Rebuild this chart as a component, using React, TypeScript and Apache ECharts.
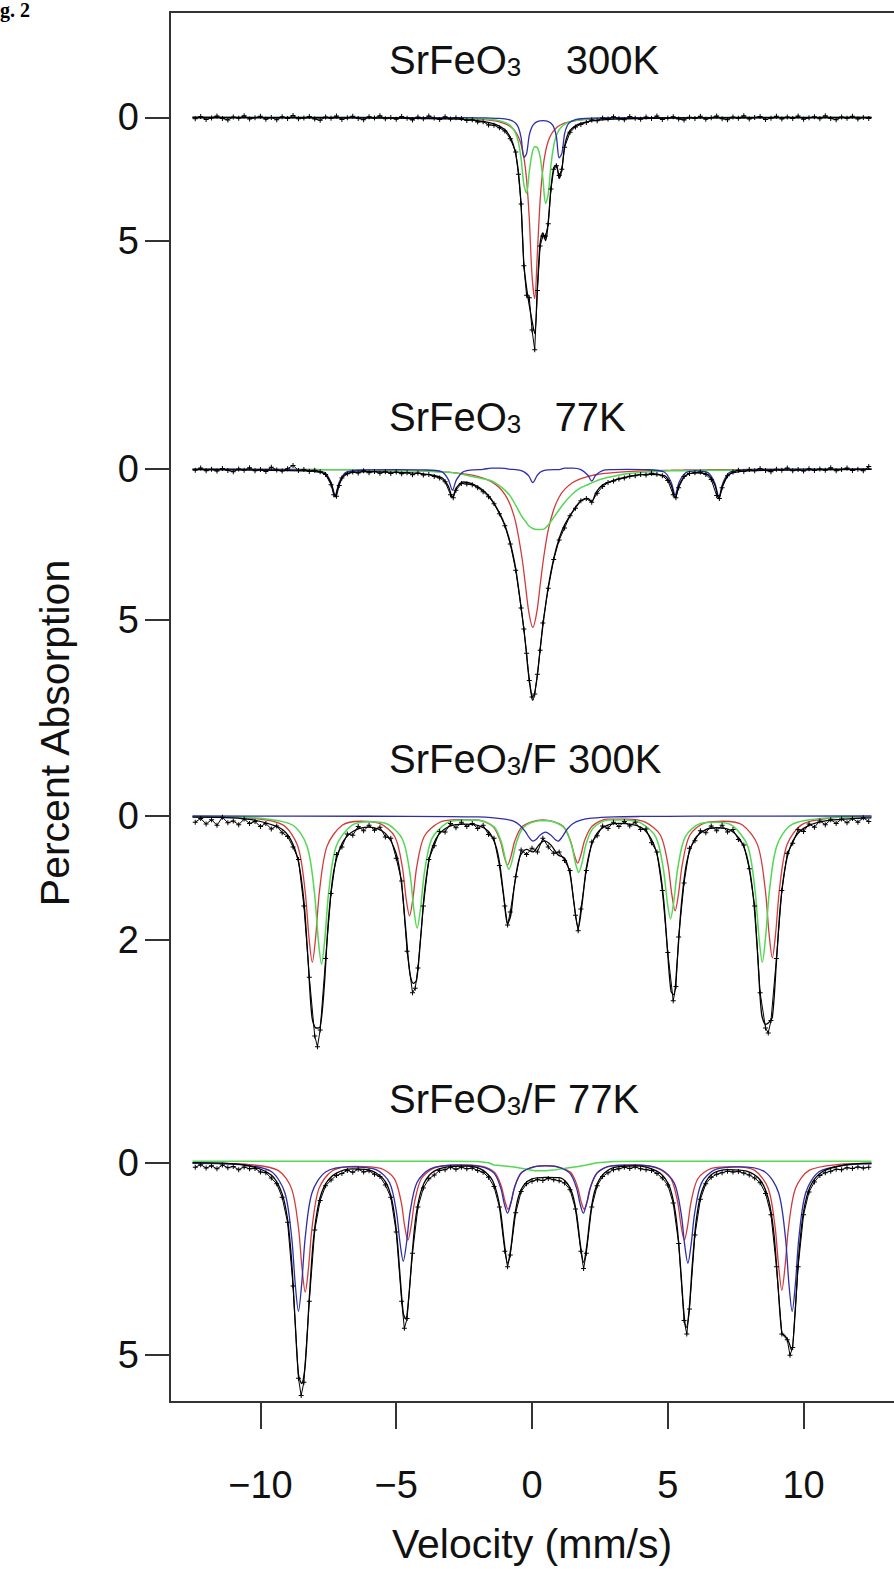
import React, { useEffect, useRef } from "react";
import * as echarts from "echarts";

// ---------- axis ticks ----------
const X_TICKS = [-10, -5, 0, 5, 10];
const Y_TICKS = [[0, 5], [0, 5], [0, 2], [0, 5]];
const TITLES = [
  ["SrFeO", "3", "    300K"],
  ["SrFeO", "3", "   77K"],
  ["SrFeO", "3", "/F 300K"],
  ["SrFeO", "3", "/F 77K"],
];

// ---------- panel 1 : SrFeO3 300K ----------
const p1V = [-12.5, -8, -5, -3, -2, -1.5, -1.2, -1.0, -0.9, -0.8, -0.7, -0.6, -0.5, -0.4, -0.3, -0.2, -0.1, 0, 0.1, 0.2, 0.3, 0.4, 0.5, 0.6, 0.7, 0.8, 0.9, 1.0, 1.1, 1.2, 1.3, 1.4, 1.6, 1.8, 2.2, 3, 5, 8, 12.5];
const p1Red = [0, 0.005, 0.011, 0.031, 0.068, 0.117, 0.176, 0.245, 0.296, 0.363, 0.457, 0.589, 0.786, 1.095, 1.605, 2.5, 4.09, 6.38, 7.33, 5.44, 3.35, 2.08, 1.37, 0.954, 0.697, 0.53, 0.415, 0.334, 0.274, 0.228, 0.194, 0.166, 0.126, 0.099, 0.065, 0.035, 0.012, 0.005, 0.002];
const p1Green = [0, 0, 0.01, 0.02, 0.05, 0.085, 0.134, 0.199, 0.252, 0.329, 0.449, 0.647, 1.009, 1.683, 2.712, 3.064, 2.197, 1.472, 1.184, 1.22, 1.595, 2.463, 3.479, 3.082, 1.906, 1.138, 0.722, 0.497, 0.362, 0.276, 0.216, 0.175, 0.122, 0.09, 0.055, 0.027, 0.009, 0.003, 0.001];
const p1Blue = [0, 0, 0.003, 0.005, 0.012, 0.023, 0.038, 0.058, 0.076, 0.104, 0.15, 0.233, 0.407, 0.822, 1.614, 1.462, 0.717, 0.374, 0.231, 0.166, 0.135, 0.126, 0.135, 0.164, 0.23, 0.386, 0.784, 1.638, 1.456, 0.662, 0.328, 0.191, 0.088, 0.051, 0.024, 0.01, 0.003, 0.001, 0];
const p1Fit = [0, 0.01, 0.02, 0.06, 0.13, 0.23, 0.35, 0.5, 0.62, 0.8, 1.06, 1.47, 2.2, 3.6, 5.93, 6.9, 7.6, 8.23, 8.75, 6.83, 5.08, 4.67, 4.98, 4.2, 2.83, 2.05, 1.92, 2.47, 2.09, 1.17, 0.74, 0.53, 0.34, 0.24, 0.14, 0.07, 0.02, 0.01, 0];
const p1Data = [
  [-12.4, 0.05], [-12.2, -0.04], [-12.0, 0.08], [-11.8, 0.02], [-11.6, -0.06], [-11.4, 0.04], [-11.2, 0.1], [-11.0, -0.02], [-10.8, 0.03], [-10.6, -0.07],
  [-10.4, 0.06], [-10.2, 0.01], [-10.0, -0.05], [-9.8, 0.07], [-9.6, 0.0], [-9.4, 0.09], [-9.2, -0.03], [-9.0, 0.04], [-8.8, -0.08], [-8.6, 0.05],
  [-8.4, 0.02], [-8.2, -0.04], [-8.0, 0.06], [-7.8, 0.11], [-7.6, -0.02], [-7.4, 0.03], [-7.2, -0.06], [-7.0, 0.08], [-6.8, 0.01], [-6.6, -0.05],
  [-6.4, 0.04], [-6.2, 0.09], [-6.0, -0.03], [-5.8, 0.02], [-5.6, -0.07], [-5.4, 0.05], [-5.2, 0.0], [-5.0, 0.07], [-4.8, -0.04], [-4.6, 0.03],
  [-4.4, 0.1], [-4.2, -0.02], [-4.0, 0.05], [-3.8, -0.06], [-3.6, 0.02], [-3.4, 0.08], [-3.2, -0.03], [-3.0, 0.06], [-2.8, 0.01], [-2.6, 0.04],
  [-2.4, 0.12], [-2.2, 0.09], [-2.0, 0.18], [-1.8, 0.17], [-1.6, 0.3], [-1.4, 0.31], [-1.2, 0.42], [-1.0, 0.55], [-0.8, 0.86], [-0.6, 1.4],
  [-0.5, 2.3], [-0.4, 3.5], [-0.3, 6.0], [-0.2, 7.2], [-0.1, 7.3], [0.0, 8.6], [0.1, 9.4], [0.2, 7.0], [0.3, 5.2], [0.4, 4.8],
  [0.5, 4.8], [0.6, 4.3], [0.7, 2.9], [0.8, 2.1], [0.9, 1.95], [1.0, 2.35], [1.1, 2.1], [1.2, 1.2], [1.4, 0.6], [1.6, 0.38],
  [1.8, 0.28], [2.0, 0.2], [2.2, 0.1], [2.4, 0.13], [2.6, 0.02], [2.8, 0.06], [3.0, -0.03], [3.2, 0.05], [3.4, 0.09], [3.6, -0.04],
  [3.8, 0.03], [4.0, 0.07], [4.2, -0.02], [4.4, 0.04], [4.6, -0.06], [4.8, 0.08], [5.0, 0.02], [5.2, -0.03], [5.4, 0.06], [5.6, 0.1],
  [5.8, -0.01], [6.0, 0.04], [6.2, -0.05], [6.4, 0.07], [6.6, 0.01], [6.8, -0.06], [7.0, 0.05], [7.2, 0.09], [7.4, -0.02], [7.6, 0.03],
  [7.8, -0.07], [8.0, 0.06], [8.2, 0.0], [8.4, -0.04], [8.6, 0.08], [8.8, 0.03], [9.0, -0.05], [9.2, 0.06], [9.4, -0.02], [9.6, 0.04],
  [9.8, -0.06], [10.0, 0.07], [10.2, 0.01], [10.4, -0.03], [10.6, 0.05], [10.8, -0.07], [11.0, 0.04], [11.2, 0.09], [11.4, -0.02], [11.6, 0.03],
  [11.8, -0.05], [12.0, 0.06], [12.2, 0.0], [12.4, 0.04],
];

// ---------- panel 2 : SrFeO3 77K ----------
const p2V = [-12.5, -10, -8.5, -7.65, -7.4, -7.25, -7.1, -6.85, -6, -5, -4, -3.33, -3.08, -2.93, -2.78, -2.53, -2.2, -1.8, -1.5, -1.2, -1.0, -0.8, -0.6, -0.37, -0.25, -0.12, 0.03, 0.18, 0.3, 0.43, 0.6, 0.8, 1.0, 1.2, 1.5, 1.8, 2.05, 2.2, 2.35, 2.6, 3.0, 3.5, 4.2, 4.87, 5.12, 5.27, 5.42, 5.67, 6.07, 6.48, 6.73, 6.88, 7.03, 7.28, 8, 9, 10.5, 12.5];
const p2Red = [0.007, 0.011, 0.015, 0.018, 0.019, 0.02, 0.021, 0.022, 0.029, 0.042, 0.064, 0.092, 0.107, 0.118, 0.131, 0.157, 0.205, 0.3, 0.417, 0.619, 0.84, 1.19, 1.77, 2.93, 3.78, 4.72, 5.24, 4.72, 3.85, 2.93, 2.01, 1.34, 0.927, 0.675, 0.448, 0.318, 0.247, 0.217, 0.19, 0.156, 0.117, 0.087, 0.06, 0.045, 0.041, 0.038, 0.036, 0.033, 0.029, 0.025, 0.024, 0.023, 0.021, 0.02, 0.017, 0.013, 0.01, 0.007];
const p2Green = [0.01, 0.015, 0.02, 0.025, 0.025, 0.025, 0.025, 0.025, 0.03, 0.045, 0.07, 0.1, 0.11, 0.12, 0.14, 0.18, 0.25, 0.32, 0.39, 0.55, 0.7, 0.9, 1.2, 1.58, 1.72, 1.88, 1.97, 2.0, 2.0, 1.99, 1.85, 1.6, 1.35, 1.11, 0.82, 0.62, 0.52, 0.46, 0.4, 0.32, 0.24, 0.16, 0.1, 0.07, 0.06, 0.06, 0.06, 0.06, 0.04, 0.04, 0.04, 0.04, 0.04, 0.04, 0.02, 0.015, 0.01, 0.005];
const p2Blue = [0.005, 0.01, 0.03, 0.11, 0.44, 0.87, 0.44, 0.11, 0.03, 0.02, 0.03, 0.09, 0.35, 0.7, 0.35, 0.09, 0.03, 0.01, -0.03, -0.03, -0.02, 0.01, 0.02, 0.06, 0.12, 0.23, 0.45, 0.23, 0.11, 0.055, 0.03, 0.02, 0.02, -0.03, -0.03, 0.02, 0.2, 0.4, 0.2, 0.05, 0.02, 0.01, 0.02, 0.1, 0.43, 0.85, 0.43, 0.12, 0.06, 0.12, 0.46, 0.92, 0.46, 0.11, 0.02, 0.01, 0.005, 0];
const p2Fit = [0.02, 0.04, 0.06, 0.15, 0.48, 0.92, 0.49, 0.16, 0.09, 0.11, 0.16, 0.28, 0.57, 0.94, 0.62, 0.43, 0.49, 0.7, 1.0, 1.45, 1.85, 2.45, 3.3, 4.8, 5.7, 6.85, 7.66, 6.95, 5.96, 4.98, 3.89, 2.96, 2.3, 1.85, 1.4, 1.05, 0.97, 1.08, 0.79, 0.53, 0.38, 0.26, 0.18, 0.22, 0.53, 0.95, 0.53, 0.21, 0.13, 0.19, 0.52, 0.98, 0.52, 0.17, 0.06, 0.04, 0.03, 0.01];
const p2Data = [
  [-12.4, 0.04], [-12.2, -0.03], [-12.0, 0.06], [-11.8, 0.01], [-11.6, 0.07], [-11.4, -0.02], [-11.2, 0.05], [-11.0, 0.09], [-10.8, 0.0], [-10.6, 0.04],
  [-10.4, -0.04], [-10.2, 0.06], [-10.0, 0.02], [-9.8, 0.08], [-9.6, -0.06], [-9.4, 0.03], [-9.2, 0.07], [-9.0, -0.01], [-8.8, -0.12], [-8.6, 0.05],
  [-8.4, 0.02], [-8.2, 0.08], [-8.0, 0.04], [-7.8, 0.09], [-7.6, 0.18], [-7.4, 0.52], [-7.3, 0.85], [-7.2, 0.9], [-7.1, 0.55], [-7.0, 0.3],
  [-6.8, 0.16], [-6.6, 0.1], [-6.4, 0.13], [-6.2, 0.06], [-6.0, 0.12], [-5.8, 0.08], [-5.6, 0.14], [-5.4, 0.09], [-5.2, 0.15], [-5.0, 0.1],
  [-4.8, 0.16], [-4.6, 0.12], [-4.4, 0.19], [-4.2, 0.13], [-4.0, 0.2], [-3.8, 0.18], [-3.6, 0.25], [-3.4, 0.3], [-3.2, 0.42], [-3.0, 0.85],
  [-2.9, 0.95], [-2.8, 0.7], [-2.6, 0.48], [-2.4, 0.5], [-2.2, 0.52], [-2.0, 0.62], [-1.8, 0.75], [-1.6, 0.92], [-1.4, 1.15], [-1.2, 1.48],
  [-1.0, 1.88], [-0.8, 2.48], [-0.6, 3.35], [-0.4, 4.6], [-0.3, 5.3], [-0.2, 6.1], [-0.1, 7.0], [0.0, 7.55], [0.1, 7.45], [0.2, 6.8],
  [0.3, 6.0], [0.4, 5.1], [0.6, 3.95], [0.8, 3.0], [1.0, 2.35], [1.2, 1.95], [1.4, 1.55], [1.6, 1.3], [1.8, 1.05], [2.0, 0.98],
  [2.2, 1.1], [2.4, 0.8], [2.6, 0.58], [2.8, 0.45], [3.0, 0.4], [3.2, 0.33], [3.4, 0.3], [3.6, 0.24], [3.8, 0.22], [4.0, 0.18],
  [4.2, 0.2], [4.4, 0.14], [4.6, 0.17], [4.8, 0.22], [5.0, 0.38], [5.2, 0.85], [5.3, 0.95], [5.4, 0.62], [5.6, 0.25], [5.8, 0.15],
  [6.0, 0.12], [6.2, 0.1], [6.4, 0.18], [6.6, 0.35], [6.8, 0.88], [6.9, 0.98], [7.0, 0.62], [7.2, 0.22], [7.4, 0.1], [7.6, 0.04],
  [7.8, 0.08], [8.0, 0.02], [8.2, 0.06], [8.4, -0.02], [8.6, 0.05], [8.8, 0.09], [9.0, 0.01], [9.2, 0.04], [9.4, -0.03], [9.6, 0.06],
  [9.8, 0.02], [10.0, 0.07], [10.2, -0.01], [10.4, 0.05], [10.6, 0.0], [10.8, 0.04], [11.0, -0.04], [11.2, 0.06], [11.4, 0.02], [11.6, -0.03],
  [11.8, 0.05], [12.0, 0.01], [12.2, 0.06], [12.4, -0.08],
];

// ---------- panel 3 : SrFeO3/F 300K ----------
const p3Red = [
  [-12.5, 0.01], [-10.5, 0.029], [-9.19, 0.14], [-8.63, 0.48], [-8.36, 1.19], [-8.21, 1.97], [-8.09, 2.36], [-7.97, 1.97], [-7.82, 1.19], [-7.55, 0.49], [-6.99, 0.15], [-6.3, 0.085],
  [-5.61, 0.12], [-5.05, 0.335], [-4.78, 0.81], [-4.63, 1.35], [-4.51, 1.61], [-4.39, 1.35], [-4.24, 0.81], [-3.97, 0.33], [-3.41, 0.105], [-2.7, 0.06],
  [-2.0, 0.065], [-1.44, 0.17], [-1.17, 0.4], [-1.02, 0.66], [-0.9, 0.79], [-0.78, 0.66], [-0.63, 0.4], [-0.36, 0.17], [0.2, 0.07], [0.4, 0.065],
  [0.58, 0.07], [1.14, 0.16], [1.41, 0.39], [1.56, 0.63], [1.68, 0.76], [1.8, 0.63], [1.95, 0.38], [2.22, 0.16], [2.78, 0.05], [3.5, 0.05],
  [4.17, 0.1], [4.73, 0.31], [5.0, 0.77], [5.15, 1.27], [5.27, 1.53], [5.39, 1.27], [5.54, 0.77], [5.81, 0.31], [6.37, 0.11], [7.06, 0.085],
  [7.75, 0.145], [8.31, 0.47], [8.58, 1.15], [8.73, 1.9], [8.85, 2.29], [8.97, 1.9], [9.12, 1.15], [9.39, 0.465], [9.95, 0.135], [11.0, 0.035], [12.5, 0.012],
];
const p3Green = [
  [-12.5, 0.008], [-10.5, 0.023], [-8.85, 0.14], [-8.29, 0.48], [-8.02, 1.2], [-7.87, 1.99], [-7.75, 2.39], [-7.63, 1.99], [-7.48, 1.2], [-7.21, 0.49], [-6.65, 0.155], [-6.0, 0.095],
  [-5.33, 0.13], [-4.77, 0.375], [-4.5, 0.91], [-4.35, 1.51], [-4.23, 1.81], [-4.11, 1.51], [-3.96, 0.91], [-3.69, 0.37], [-3.13, 0.11], [-2.5, 0.065],
  [-1.95, 0.07], [-1.39, 0.18], [-1.12, 0.435], [-0.97, 0.72], [-0.85, 0.86], [-0.73, 0.72], [-0.58, 0.44], [-0.31, 0.18], [0.25, 0.077], [0.45, 0.075],
  [0.62, 0.076], [1.18, 0.19], [1.45, 0.46], [1.6, 0.76], [1.72, 0.91], [1.84, 0.76], [1.99, 0.455], [2.26, 0.19], [2.82, 0.065], [3.4, 0.065],
  [4.0, 0.11], [4.56, 0.34], [4.83, 0.835], [4.98, 1.38], [5.1, 1.66], [5.22, 1.38], [5.37, 0.835], [5.64, 0.34], [6.2, 0.12], [6.8, 0.1],
  [7.38, 0.155], [7.94, 0.48], [8.21, 1.19], [8.36, 1.96], [8.48, 2.36], [8.6, 1.96], [8.75, 1.18], [9.02, 0.475], [9.58, 0.135], [11.0, 0.027], [12.5, 0.011],
];
const p3Blue = [
  [-12.5, 0], [-6, 0.004], [-3, 0.01], [-2, 0.015], [-1.5, 0.025], [-1.0, 0.05], [-0.7, 0.08], [-0.45, 0.15], [-0.25, 0.25], [-0.1, 0.35], [0.03, 0.405],
  [0.15, 0.38], [0.3, 0.305], [0.5, 0.26], [0.7, 0.31], [0.85, 0.38], [0.96, 0.405], [1.1, 0.345], [1.3, 0.21], [1.5, 0.125], [1.8, 0.066], [2.2, 0.036],
  [3, 0.015], [4, 0.008], [6, 0.003], [12.5, 0],
];
const p3Fit = [
  [-12.5, 0.02], [-10.5, 0.05], [-9.3, 0.19], [-8.9, 0.37], [-8.6, 0.74], [-8.4, 1.37], [-8.25, 2.29], [-8.1, 3.25], [-7.95, 3.42], [-7.8, 3.4], [-7.65, 2.75], [-7.5, 1.7], [-7.3, 0.89], [-7.0, 0.45], [-6.6, 0.25], [-6.0, 0.18],
  [-5.4, 0.28], [-5.0, 0.61], [-4.8, 1.11], [-4.65, 1.82], [-4.5, 2.53], [-4.37, 2.7], [-4.25, 2.65], [-4.1, 1.97], [-3.95, 1.19], [-3.75, 0.63], [-3.45, 0.31], [-3.0, 0.16], [-2.5, 0.13],
  [-2.0, 0.15], [-1.6, 0.25], [-1.35, 0.46], [-1.2, 0.74], [-1.05, 1.25], [-0.9, 1.74], [-0.78, 1.6], [-0.65, 1.13], [-0.45, 0.66], [-0.2, 0.54], [0.03, 0.58], [0.25, 0.47], [0.45, 0.4], [0.7, 0.47],
  [0.96, 0.63], [1.2, 0.68], [1.4, 0.94], [1.55, 1.42], [1.7, 1.81], [1.85, 1.4], [2.0, 0.84], [2.25, 0.4], [2.6, 0.19], [3.2, 0.12],
  [4.0, 0.18], [4.4, 0.38], [4.65, 0.71], [4.85, 1.36], [5.0, 2.24], [5.12, 2.83], [5.22, 2.88], [5.35, 2.32], [5.5, 1.43], [5.7, 0.74], [6.0, 0.37], [6.4, 0.22], [6.8, 0.19],
  [7.3, 0.23], [7.7, 0.41], [7.95, 0.72], [8.15, 1.31], [8.3, 2.18], [8.45, 3.18], [8.6, 3.36], [8.72, 3.33], [8.85, 3.25], [9.0, 2.36], [9.15, 1.42], [9.35, 0.76], [9.6, 0.41], [10.0, 0.2], [10.8, 0.08], [12.5, 0.03],
];
const p3Data = [
  [-12.4, 0.1], [-12.2, 0.04], [-12.0, 0.13], [-11.8, 0.06], [-11.6, 0.15], [-11.4, 0.02], [-11.2, 0.11], [-11.0, 0.08], [-10.8, 0.14], [-10.6, 0.05],
  [-10.4, 0.12], [-10.2, 0.09], [-10.0, 0.17], [-9.8, 0.12], [-9.6, 0.21], [-9.4, 0.16], [-9.2, 0.27], [-9.0, 0.33], [-8.8, 0.5], [-8.6, 0.7],
  [-8.4, 1.45], [-8.2, 2.6], [-8.0, 3.55], [-7.9, 3.72], [-7.8, 3.45], [-7.6, 2.3], [-7.4, 1.25], [-7.2, 0.62], [-7.0, 0.5], [-6.8, 0.29],
  [-6.6, 0.31], [-6.4, 0.17], [-6.2, 0.24], [-6.0, 0.15], [-5.8, 0.23], [-5.6, 0.18], [-5.4, 0.34], [-5.2, 0.36], [-5.0, 0.68], [-4.8, 1.05],
  [-4.6, 2.18], [-4.4, 2.85], [-4.3, 2.78], [-4.2, 2.45], [-4.0, 1.45], [-3.8, 0.7], [-3.6, 0.48], [-3.4, 0.25], [-3.2, 0.26], [-3.0, 0.12],
  [-2.8, 0.19], [-2.6, 0.1], [-2.4, 0.17], [-2.2, 0.12], [-2.0, 0.2], [-1.8, 0.15], [-1.6, 0.3], [-1.4, 0.36], [-1.2, 0.8], [-1.0, 1.45],
  [-0.9, 1.76], [-0.8, 1.55], [-0.6, 0.98], [-0.4, 0.55], [-0.2, 0.62], [0.0, 0.52], [0.2, 0.58], [0.4, 0.36], [0.6, 0.5], [0.8, 0.6],
  [1.0, 0.58], [1.2, 0.72], [1.4, 0.88], [1.6, 1.6], [1.7, 1.85], [1.8, 1.5], [2.0, 0.88], [2.2, 0.42], [2.4, 0.32], [2.6, 0.16],
  [2.8, 0.2], [3.0, 0.1], [3.2, 0.17], [3.4, 0.09], [3.6, 0.16], [3.8, 0.1], [4.0, 0.22], [4.2, 0.21], [4.4, 0.43], [4.6, 0.58],
  [4.8, 1.2], [5.0, 2.2], [5.2, 2.98], [5.3, 2.75], [5.4, 1.95], [5.6, 1.08], [5.8, 0.52], [6.0, 0.4], [6.2, 0.24], [6.4, 0.27],
  [6.6, 0.16], [6.8, 0.24], [7.0, 0.15], [7.2, 0.26], [7.4, 0.22], [7.6, 0.38], [7.8, 0.47], [8.0, 0.85], [8.2, 1.45], [8.4, 2.85],
  [8.6, 3.42], [8.7, 3.5], [8.8, 3.3], [9.0, 2.3], [9.2, 1.2], [9.4, 0.6], [9.6, 0.44], [9.8, 0.22], [10.0, 0.25], [10.2, 0.13],
  [10.4, 0.18], [10.6, 0.08], [10.8, 0.14], [11.0, 0.06], [11.2, 0.12], [11.4, 0.05], [11.6, 0.11], [11.8, 0.04], [12.0, 0.1], [12.2, 0.03],
  [12.4, 0.09],
];

// ---------- panel 4 : SrFeO3/F 77K ----------
const p4Blue = [
  [-12.5, 0.016], [-10.6, 0.059], [-9.6, 0.23], [-9.1, 0.78], [-8.85, 1.94], [-8.72, 3.14], [-8.6, 3.86], [-8.48, 3.14], [-8.35, 1.94], [-8.1, 0.78], [-7.6, 0.24], [-6.7, 0.11],
  [-5.74, 0.18], [-5.24, 0.525], [-4.99, 1.29], [-4.86, 2.08], [-4.74, 2.56], [-4.62, 2.08], [-4.49, 1.285], [-4.24, 0.52], [-3.74, 0.16], [-2.8, 0.065],
  [-1.9, 0.1], [-1.4, 0.27], [-1.15, 0.66], [-1.02, 1.07], [-0.9, 1.31], [-0.78, 1.06], [-0.65, 0.66], [-0.4, 0.27], [0.1, 0.1], [0.5, 0.08],
  [0.89, 0.1], [1.39, 0.27], [1.64, 0.66], [1.77, 1.07], [1.89, 1.31], [2.01, 1.06], [2.14, 0.66], [2.39, 0.27], [2.89, 0.09], [3.8, 0.065],
  [4.74, 0.17], [5.24, 0.53], [5.49, 1.31], [5.62, 2.12], [5.74, 2.61], [5.86, 2.12], [5.99, 1.31], [6.24, 0.53], [6.74, 0.18], [7.66, 0.11],
  [8.58, 0.24], [9.08, 0.78], [9.33, 1.93], [9.46, 3.14], [9.58, 3.86], [9.7, 3.14], [9.83, 1.93], [10.08, 0.78], [10.58, 0.23], [11.6, 0.058], [12.5, 0.028],
];
const p4Red = [
  [-12.5, 0.012], [-10.4, 0.049], [-9.35, 0.2], [-8.85, 0.68], [-8.6, 1.69], [-8.47, 2.73], [-8.35, 3.36], [-8.23, 2.73], [-8.1, 1.69], [-7.85, 0.68], [-7.35, 0.21], [-6.5, 0.093],
  [-5.57, 0.15], [-5.07, 0.415], [-4.82, 1.01], [-4.69, 1.64], [-4.57, 2.01], [-4.45, 1.64], [-4.32, 1.01], [-4.07, 0.41], [-3.57, 0.13], [-2.7, 0.06],
  [-1.88, 0.09], [-1.38, 0.25], [-1.13, 0.61], [-1.0, 0.99], [-0.88, 1.21], [-0.76, 0.99], [-0.63, 0.61], [-0.38, 0.25], [0.12, 0.1], [0.52, 0.075],
  [0.92, 0.1], [1.42, 0.25], [1.67, 0.61], [1.8, 0.99], [1.92, 1.21], [2.04, 0.99], [2.17, 0.61], [2.42, 0.25], [2.92, 0.08], [3.8, 0.06],
  [4.61, 0.14], [5.11, 0.41], [5.36, 1.01], [5.49, 1.64], [5.61, 2.01], [5.73, 1.64], [5.86, 1.01], [6.11, 0.41], [6.61, 0.15], [7.4, 0.1],
  [8.2, 0.2], [8.7, 0.67], [8.95, 1.66], [9.08, 2.68], [9.2, 3.31], [9.32, 2.68], [9.45, 1.66], [9.7, 0.67], [10.2, 0.2], [11.3, 0.046], [12.5, 0.019],
];
const p4Green = [
  [-12.5, -0.04], [-3, -0.04], [-2, -0.03], [-1.6, 0.0], [-1.4, 0.06], [-0.9, 0.09], [-0.6, 0.12], [-0.2, 0.17], [0.1, 0.21], [0.5, 0.21],
  [0.9, 0.18], [1.3, 0.14], [1.7, 0.1], [2.0, 0.06], [2.4, 0.0], [3.0, -0.03], [4.0, -0.04], [12.5, -0.04],
];
const p4Fit = [
  [-12.5, 0.0], [-10.6, 0.06], [-9.6, 0.32], [-9.2, 0.81], [-9.0, 1.48], [-8.85, 2.57], [-8.72, 4.15], [-8.6, 5.5], [-8.48, 5.74], [-8.35, 5.25], [-8.2, 3.51], [-8.05, 2.01], [-7.85, 1.04], [-7.6, 0.55], [-7.2, 0.27], [-6.6, 0.16],
  [-5.9, 0.21], [-5.4, 0.49], [-5.15, 1.0], [-4.98, 1.86], [-4.85, 3.01], [-4.74, 3.91], [-4.65, 4.06], [-4.55, 3.59], [-4.42, 2.43], [-4.27, 1.37], [-4.05, 0.66], [-3.7, 0.27], [-3.1, 0.11], [-2.4, 0.09],
  [-1.9, 0.16], [-1.5, 0.41], [-1.3, 0.77], [-1.15, 1.3], [-1.02, 2.08], [-0.9, 2.61], [-0.78, 2.22], [-0.65, 1.44], [-0.5, 0.89], [-0.3, 0.58], [0.0, 0.42], [0.5, 0.38], [1.0, 0.39],
  [1.3, 0.54], [1.5, 0.84], [1.65, 1.37], [1.78, 2.12], [1.9, 2.59], [2.02, 2.14], [2.15, 1.34], [2.3, 0.76], [2.55, 0.36], [3.0, 0.13], [3.8, 0.08],
  [4.6, 0.22], [5.0, 0.52], [5.2, 0.97], [5.35, 1.69], [5.48, 2.8], [5.6, 3.95], [5.68, 4.28], [5.78, 3.87], [5.9, 2.67], [6.05, 1.48], [6.25, 0.75], [6.6, 0.31], [7.2, 0.18],
  [7.9, 0.22], [8.4, 0.45], [8.7, 0.93], [8.9, 1.79], [9.05, 3.1], [9.2, 4.43], [9.32, 4.5], [9.45, 4.65], [9.56, 4.87], [9.68, 3.99], [9.82, 2.44], [10.0, 1.27], [10.25, 0.61], [10.7, 0.23], [11.5, 0.06], [12.5, 0.01],
];
const p4Data = [
  [-12.4, 0.12], [-12.2, 0.05], [-12.0, 0.14], [-11.8, 0.08], [-11.6, 0.16], [-11.4, 0.06], [-11.2, 0.13], [-11.0, 0.1], [-10.8, 0.18], [-10.6, 0.11],
  [-10.4, 0.16], [-10.2, 0.15], [-10.0, 0.24], [-9.8, 0.26], [-9.6, 0.4], [-9.4, 0.55], [-9.2, 0.9], [-9.0, 1.55], [-8.8, 3.2], [-8.6, 5.6],
  [-8.5, 6.05], [-8.4, 5.7], [-8.2, 3.6], [-8.0, 1.75], [-7.8, 0.98], [-7.6, 0.6], [-7.4, 0.45], [-7.2, 0.33], [-7.0, 0.28], [-6.8, 0.2],
  [-6.6, 0.25], [-6.4, 0.17], [-6.2, 0.24], [-6.0, 0.21], [-5.8, 0.3], [-5.6, 0.36], [-5.4, 0.58], [-5.2, 0.9], [-5.0, 1.8], [-4.8, 3.6],
  [-4.7, 4.3], [-4.6, 4.05], [-4.4, 2.35], [-4.2, 1.15], [-4.0, 0.66], [-3.8, 0.42], [-3.6, 0.32], [-3.4, 0.2], [-3.2, 0.18], [-3.0, 0.12],
  [-2.8, 0.17], [-2.6, 0.12], [-2.4, 0.16], [-2.2, 0.14], [-2.0, 0.2], [-1.8, 0.25], [-1.6, 0.38], [-1.4, 0.62], [-1.2, 1.15], [-1.0, 2.3],
  [-0.9, 2.7], [-0.8, 2.4], [-0.6, 1.3], [-0.4, 0.75], [-0.2, 0.55], [0.0, 0.48], [0.2, 0.44], [0.4, 0.46], [0.6, 0.41], [0.8, 0.44],
  [1.0, 0.47], [1.2, 0.53], [1.4, 0.7], [1.6, 1.2], [1.8, 2.3], [1.9, 2.75], [2.0, 2.35], [2.2, 1.15], [2.4, 0.6], [2.6, 0.36],
  [2.8, 0.26], [3.0, 0.18], [3.2, 0.16], [3.4, 0.12], [3.6, 0.15], [3.8, 0.11], [4.0, 0.16], [4.2, 0.18], [4.4, 0.2], [4.6, 0.28],
  [4.8, 0.4], [5.0, 0.58], [5.2, 1.05], [5.4, 2.1], [5.6, 4.1], [5.7, 4.45], [5.8, 3.8], [6.0, 1.88], [6.2, 0.95], [6.4, 0.55],
  [6.6, 0.38], [6.8, 0.3], [7.0, 0.26], [7.2, 0.22], [7.4, 0.24], [7.6, 0.23], [7.8, 0.27], [8.0, 0.32], [8.2, 0.4], [8.4, 0.52],
  [8.6, 0.8], [8.8, 1.35], [9.0, 2.7], [9.2, 4.45], [9.4, 4.6], [9.5, 5.0], [9.6, 4.8], [9.8, 2.7], [10.0, 1.35], [10.2, 0.76],
  [10.4, 0.5], [10.6, 0.33], [10.8, 0.26], [11.0, 0.22], [11.2, 0.17], [11.4, 0.18], [11.6, 0.13], [11.8, 0.15], [12.0, 0.11], [12.2, 0.14],
  [12.4, 0.12],
];

// ---------- layout / style ----------
const FONT = '"Liberation Sans", Arial, sans-serif';
const RED = "#d33a3a";
const GREEN = "#52d852";
const BLUE = "#2e2eab";
const AXIS = "#333333";
const TEXT = "#111111";
// grid pixel bands [top, height] and y ranges [min, max] per panel
const BANDS = [[12, 368], [380, 340], [720, 350], [1070, 332]];
const YRANGE = [[-4.271, 10.628], [-2.947, 8.311], [-1.548, 4.097], [-2.408, 6.216]];
const TITLE_Y = [58, 415, 757, 1097];

const zip = (v: number[], y: number[]) => v.map((x, i) => [x, y[i]]);

const PLUS = "path://M2,0H3V2H5V3H3V5H2V3H0V2H2Z";

export default function App() {
  const ref = useRef<HTMLDivElement>(null);

  useEffect(() => {
    if (!ref.current) return;
    const chart = echarts.init(ref.current, null, { renderer: "svg" });

    const panels = [
      { red: zip(p1V, p1Red), green: zip(p1V, p1Green), blue: zip(p1V, p1Blue), fit: zip(p1V, p1Fit), data: p1Data },
      { red: zip(p2V, p2Red), green: zip(p2V, p2Green), blue: zip(p2V, p2Blue), fit: zip(p2V, p2Fit), data: p2Data },
      { red: p3Red, green: p3Green, blue: p3Blue, fit: p3Fit, data: p3Data },
      { red: p4Red, green: p4Green, blue: p4Blue, fit: p4Fit, data: p4Data },
    ];

    const grid = BANDS.map(([top, height]) => ({ left: 170, right: -4, top, height }));

    const xAxis = BANDS.map((_, i) => ({
      type: "value",
      gridIndex: i,
      min: -13.33,
      max: 13.33,
      show: i === 0 || i === 3,
      position: i === 0 ? "top" : "bottom",
      splitLine: { show: false },
      axisLine: { show: true, onZero: false, lineStyle: { color: AXIS, width: 2 } },
      axisTick:
        i === 3
          ? { show: true, inside: false, length: 27, customValues: X_TICKS, lineStyle: { color: AXIS, width: 2 } }
          : { show: false },
      axisLabel:
        i === 3
          ? {
              show: true,
              customValues: X_TICKS,
              margin: 64,
              fontSize: 38,
              fontFamily: FONT,
              color: TEXT,
              formatter: (v: number) => (v < 0 ? "\u2212" + Math.abs(v) : String(v)),
            }
          : { show: false },
      name: i === 3 ? "Velocity (mm/s)" : "",
      nameLocation: "middle",
      nameGap: 121,
      nameTextStyle: { fontSize: 41, fontFamily: FONT, color: TEXT },
    }));

    const yAxis = BANDS.map((_, i) => ({
      type: "value",
      gridIndex: i,
      inverse: true,
      min: YRANGE[i][0],
      max: YRANGE[i][1],
      splitLine: { show: false },
      axisLine: { show: true, onZero: false, lineStyle: { color: AXIS, width: 2 } },
      axisTick: { show: true, inside: false, length: 25, customValues: Y_TICKS[i], lineStyle: { color: AXIS, width: 2 } },
      axisLabel: { show: true, customValues: Y_TICKS[i], margin: 31, fontSize: 38, fontFamily: FONT, color: TEXT },
    }));

    const series: any[] = [];
    panels.forEach((p, i) => {
      const common = { type: "line", xAxisIndex: i, yAxisIndex: i, showSymbol: false, silent: true };
      series.push({ ...common, name: `red${i}`, data: p.red, smooth: 0.3, lineStyle: { color: RED, width: 1.3 }, z: 2 });
      series.push({ ...common, name: `green${i}`, data: p.green, smooth: i === 3 ? false : 0.3, lineStyle: { color: GREEN, width: 1.5 }, z: 2 });
      series.push({ ...common, name: `blue${i}`, data: p.blue, smooth: 0.3, lineStyle: { color: BLUE, width: 1.3 }, z: 3 });
      series.push({ ...common, name: `fit${i}`, data: p.fit, smooth: 0.3, lineStyle: { color: "#000", width: 1.3 }, z: 4 });
      series.push({
        type: "line",
        name: `data${i}`,
        xAxisIndex: i,
        yAxisIndex: i,
        silent: true,
        data: p.data,
        showSymbol: true,
        showAllSymbol: true,
        symbol: PLUS,
        symbolSize: 5,
        itemStyle: { color: "#000" },
        lineStyle: { color: "#000", width: 1 },
        z: 5,
      });
    });

    const graphic: any[] = [];
    TITLES.forEach((t, i) => {
      graphic.push({
        type: "text",
        x: 389,
        y: TITLE_Y[i],
        silent: true,
        style: {
          text: `{a|${t[0]}}{s|${t[1]}}{a|${t[2]}}`,
          align: "left",
          verticalAlign: "middle",
          textAlign: "left",
          textVerticalAlign: "middle",
          rich: {
            a: { fontSize: 40, fontFamily: FONT, fill: TEXT, color: TEXT, lineHeight: 44, verticalAlign: "bottom" },
            s: { fontSize: 26, fontFamily: FONT, fill: TEXT, color: TEXT, lineHeight: 26, verticalAlign: "bottom" },
          },
        },
      });
    });
    graphic.push({
      type: "text",
      x: 55,
      y: 733,
      rotation: Math.PI / 2,
      silent: true,
      style: {
        text: "Percent Absorption",
        font: `41px ${FONT}`,
        fill: TEXT,
        align: "center",
        verticalAlign: "middle",
        textAlign: "center",
        textVerticalAlign: "middle",
      },
    });
    graphic.push({
      type: "text",
      x: 0,
      y: 0,
      silent: true,
      style: {
        text: "g. 2",
        font: 'bold 20px "Liberation Serif", serif',
        fill: "#000",
        align: "left",
        verticalAlign: "top",
        textAlign: "left",
        textVerticalAlign: "top",
      },
    });

    chart.setOption({
      animation: false,
      backgroundColor: "#ffffff",
      grid,
      xAxis,
      yAxis,
      series,
      graphic,
    });

    return () => chart.dispose();
  }, []);

  return (
    <div
      ref={ref}
      style={{ position: "absolute", left: 0, top: 0, width: 894, height: 1569, background: "#fff" }}
    />
  );
}
